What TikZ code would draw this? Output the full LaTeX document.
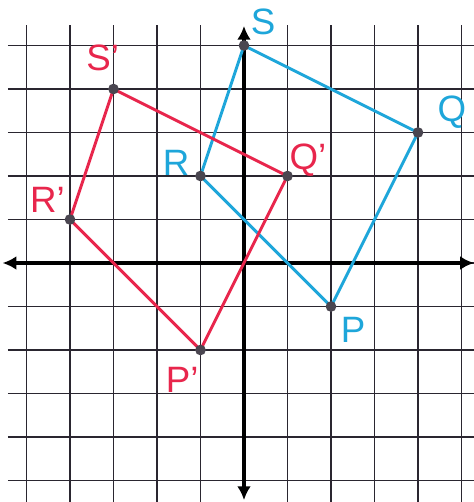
\documentclass[tikz,border=0pt]{standalone}
\usepackage{fontspec}
\setmainfont{Liberation Sans}
\usetikzlibrary{arrows.meta}
\definecolor{cblue}{HTML}{1EA6DA}
\definecolor{cred}{HTML}{E8264C}
\definecolor{gridc}{HTML}{2A2630}
\definecolor{dotc}{HTML}{4A4650}
\begin{document}
\begin{tikzpicture}[x=1cm,y=1cm,
  gridline/.style={gridc,line width=0.9pt},
  axisline/.style={black,line width=2.4pt,-{Latex[length=9pt,width=9pt]}},
  shapeblue/.style={cblue,line width=1.9pt,line join=round},
  shapered/.style={cred,line width=1.9pt,line join=round},
  vdot/.style={circle,fill=dotc,inner sep=0pt,minimum size=7pt},
  lblblue/.style={text=cblue,font=\fontsize{24}{24}\selectfont},
  lblred/.style={text=cred,font=\fontsize{24}{24}\selectfont}]
\useasboundingbox[fill=white] (-5.609,-5.494) rectangle (5.287,6.046);
% grid
\foreach \y in {-5,...,5} \draw[gridline] (-5.43,\y) -- (5.287,\y);
\foreach \x in {-5,...,-1,1,2,...,5} \draw[gridline] (\x,5.47) -- (\x,-5.494);
% axes
\coordinate (xl) at (-5.55,0);
\coordinate (xr) at (5.287,0);
\coordinate (yt) at (0,5.45);
\coordinate (yb) at (0,-5.45);
\draw[axisline] (0,0) -- (xl);
\draw[axisline] (0,0) -- (xr);
\draw[axisline] (0,0) -- (yt);
\draw[axisline] (0,0) -- (yb);
% vertices
\coordinate (S) at (0,5);
\coordinate (Q) at (4,3);
\coordinate (P) at (2,-1);
\coordinate (R) at (-1,2);
\coordinate (S1) at (-3,4);
\coordinate (Q1) at (1,2);
\coordinate (P1) at (-1,-2);
\coordinate (R1) at (-4,1);
\draw[shapeblue] (S) -- (Q) -- (P) -- (R) -- cycle;
\draw[shapered] (S1) -- (Q1) -- (P1) -- (R1) -- cycle;
\foreach \p in {S,Q,P,R,S1,Q1,P1,R1} \node[vdot] (d\p) at (\p) {};
% labels
\node[lblblue] (lS) at (0.44,5.55) {S};
\node[lblblue] (lQ) at (4.78,3.47) {Q};
\node[lblblue] (lP) at (2.51,-1.54) {P};
\node[lblblue] (lR) at (-1.56,2.30) {R};
\node[lblred] (lS1) at (-3.25,4.72) {S'};
\node[lblred] (lR1) at (-4.52,1.45) {R'};
\node[lblred] (lQ1) at (1.47,2.37) {Q'};
\node[lblred] (lP1) at (-1.42,-2.69) {P'};
\end{tikzpicture}
\end{document}
